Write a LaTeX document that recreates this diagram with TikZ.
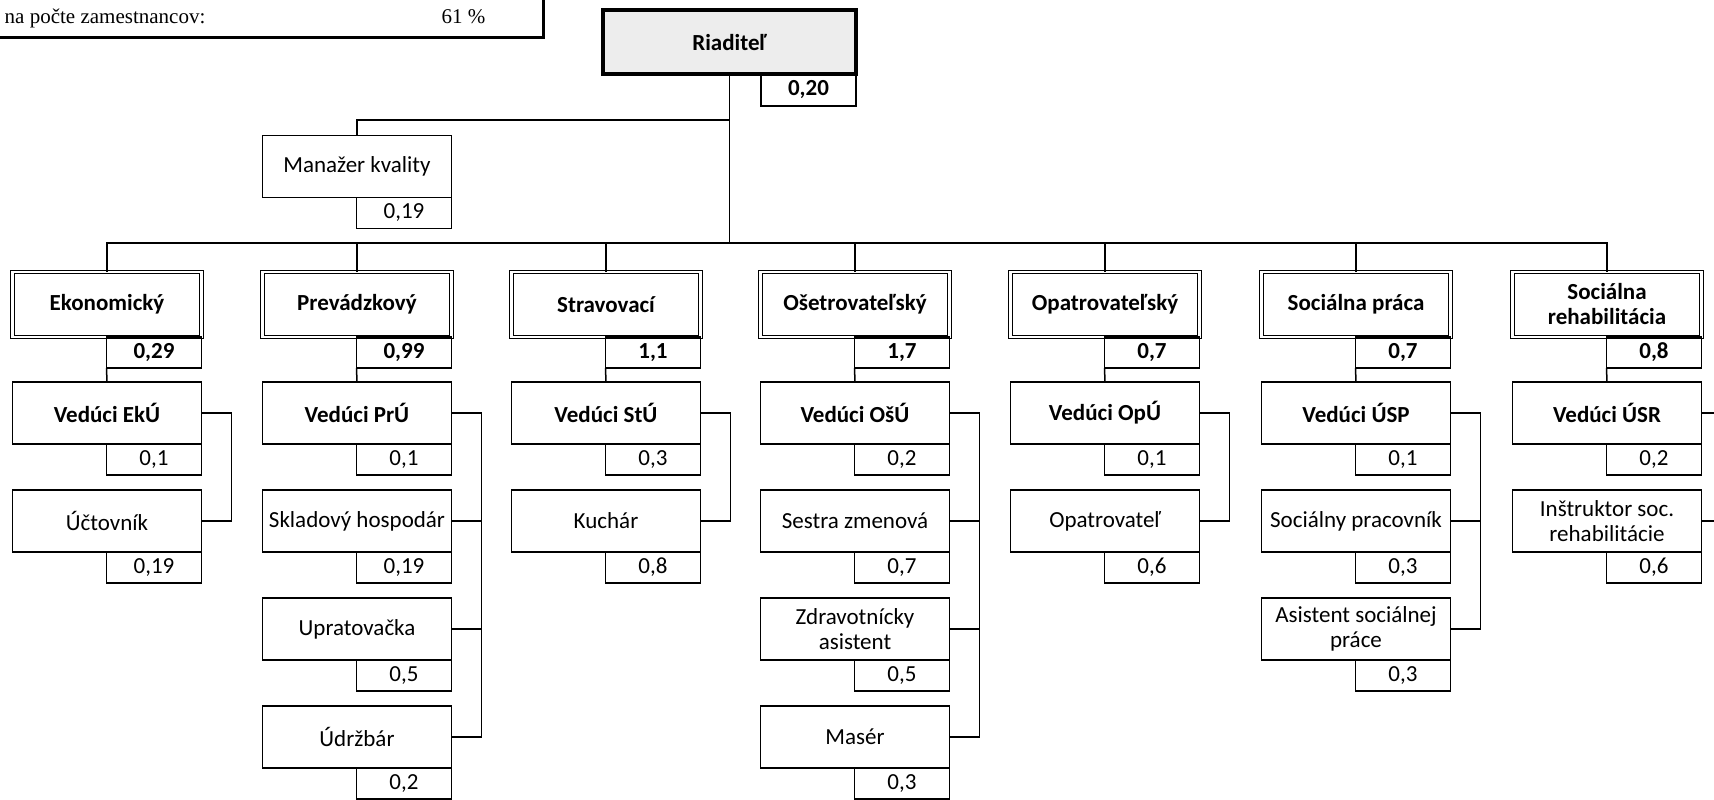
\documentclass[tikz,border=0pt]{standalone}
\usepackage{fontspec}
\setmainfont{Carlito}
\newfontfamily\serifnote{Liberation Serif}
\usetikzlibrary{positioning}
\tikzset{
    x=0.5pt, y=-0.5pt, % one unit is one pixel of the scan, y runs down
    every node/.style={font=\fontsize{11.5}{12.5}\selectfont},
    box/.style={draw, rectangle, line width=0.75pt, minimum width=94.5pt, minimum height=31pt, inner sep=0pt, outer sep=0pt, align=center}, % plain post
    lead/.style={box, font=\fontsize{11.5}{12.5}\selectfont\bfseries}, % head of a unit
    numbox/.style={box, minimum width=47.5pt, minimum height=15.5pt}, % share of staff
    dept/.style={lead, double, line width=0.5pt, double distance=1.3pt, minimum height=32.5pt}, % unit
    deptnum/.style={numbox, font=\fontsize{11.5}{12.5}\selectfont\bfseries},
    head/.style={lead, line width=2pt, fill=black!7, minimum width=126.5pt, minimum height=32pt}, % director
}

\begin{document}
\begin{tikzpicture}[line width=0.75pt]
    \path[use as bounding box, clip] (0,0) rectangle (1714,799);

    % note box, cut at the corner
    \draw[line width=1.5pt] (-10,-20) rectangle (543,37);
    \node[anchor=base west, inner sep=0pt, font=\serifnote\fontsize{10.5}{12}\selectfont] (zam) at (4,23) {na počte zamestnancov:};
    \node[anchor=base east, inner sep=0pt, font=\serifnote\fontsize{10.5}{12}\selectfont] (pct) at (486,23) {61 \%};

    % director and quality
    \node[head] (riad) at (729.5,42) {Riaditeľ};
    \node[deptnum, below left=0pt of riad.south east, minimum height=16pt] (riad-n) {0,20};
    \node[box] (mk) at (357,166.5) {Manažer kvality};
    \node[numbox, below left=0pt of mk.south east] (mk-n) {0,19};

    % units
    \node[dept] (eko) at (107,304.5) {Ekonomický};
    \node[dept] (pre) at (357,304.5) {Prevádzkový};
    \node[dept] (str) at (606,304.5) {Stravovací};
    \node[dept] (ose) at (855,304.5) {Ošetrovateľský};
    \node[dept] (opa) at (1105,304.5) {Opatrovateľský};
    \node[dept] (sp) at (1356,304.5) {Sociálna práca};
    \node[dept] (sr) at (1607,304.5) {Sociálna\\rehabilitácia};
    \node[deptnum, below left=0pt of eko.south east] (eko-n) {0,29};
    \node[deptnum, below left=0pt of pre.south east] (pre-n) {0,99};
    \node[deptnum, below left=0pt of str.south east] (str-n) {1,1};
    \node[deptnum, below left=0pt of ose.south east] (ose-n) {1,7};
    \node[deptnum, below left=0pt of opa.south east] (opa-n) {0,7};
    \node[deptnum, below left=0pt of sp.south east] (sp-n) {0,7};
    \node[deptnum, below left=0pt of sr.south east] (sr-n) {0,8};

    % Ekonomický
    \node[lead, below=22.5pt of eko] (eko-v) {Vedúci EkÚ};
    \node[numbox, below left=0pt of eko-v.south east] (eko-vn) {0,1};
    \node[box, below=23pt of eko-v] (eko-1) {Účtovník};
    \node[numbox, below left=0pt of eko-1.south east] (eko-1n) {0,19};

    % Prevádzkový
    \node[lead, below=22.5pt of pre] (pre-v) {Vedúci PrÚ};
    \node[numbox, below left=0pt of pre-v.south east] (pre-vn) {0,1};
    \node[box, below=23pt of pre-v] (pre-1) {Skladový hospodár};
    \node[numbox, below left=0pt of pre-1.south east] (pre-1n) {0,19};
    \node[box, below=23pt of pre-1] (pre-2) {Upratovačka};
    \node[numbox, below left=0pt of pre-2.south east] (pre-2n) {0,5};
    \node[box, below=23pt of pre-2] (pre-3) {Údržbár};
    \node[numbox, below left=0pt of pre-3.south east] (pre-3n) {0,2};

    % Stravovací
    \node[lead, below=22.5pt of str] (str-v) {Vedúci StÚ};
    \node[numbox, below left=0pt of str-v.south east] (str-vn) {0,3};
    \node[box, below=23pt of str-v] (str-1) {Kuchár};
    \node[numbox, below left=0pt of str-1.south east] (str-1n) {0,8};

    % Ošetrovateľský
    \node[lead, below=22.5pt of ose] (ose-v) {Vedúci OšÚ};
    \node[numbox, below left=0pt of ose-v.south east] (ose-vn) {0,2};
    \node[box, below=23pt of ose-v] (ose-1) {Sestra zmenová};
    \node[numbox, below left=0pt of ose-1.south east] (ose-1n) {0,7};
    \node[box, below=23pt of ose-1] (ose-2) {Zdravotnícky\\asistent};
    \node[numbox, below left=0pt of ose-2.south east] (ose-2n) {0,5};
    \node[box, below=23pt of ose-2] (ose-3) {Masér};
    \node[numbox, below left=0pt of ose-3.south east] (ose-3n) {0,3};

    % Opatrovateľský
    \node[lead, below=22.5pt of opa] (opa-v) {Vedúci OpÚ};
    \node[numbox, below left=0pt of opa-v.south east] (opa-vn) {0,1};
    \node[box, below=23pt of opa-v] (opa-1) {Opatrovateľ};
    \node[numbox, below left=0pt of opa-1.south east] (opa-1n) {0,6};

    % Sociálna práca
    \node[lead, below=22.5pt of sp] (sp-v) {Vedúci ÚSP};
    \node[numbox, below left=0pt of sp-v.south east] (sp-vn) {0,1};
    \node[box, below=23pt of sp-v] (sp-1) {Sociálny pracovník};
    \node[numbox, below left=0pt of sp-1.south east] (sp-1n) {0,3};
    \node[box, below=23pt of sp-1] (sp-2) {Asistent sociálnej\\práce};
    \node[numbox, below left=0pt of sp-2.south east] (sp-2n) {0,3};

    % Sociálna rehabilitácia
    \node[lead, below=22.5pt of sr] (sr-v) {Vedúci ÚSR};
    \node[numbox, below left=0pt of sr-v.south east] (sr-vn) {0,2};
    \node[box, below=23pt of sr-v] (sr-1) {Inštruktor soc.\\rehabilitácie};
    \node[numbox, below left=0pt of sr-1.south east] (sr-1n) {0,6};

    % lines from the top
    \coordinate (bus) at (0,243);
    \coordinate (qline) at (0,120);
    \draw (riad.south) -- (riad.south |- bus);
    \draw (riad.south |- qline) -| (mk.north);
    \draw (eko.north) |- (bus -| sr.north) -- (sr.north);
    \foreach \d in {pre, str, ose, opa, sp}
        \draw (\d.north) -- (\d.north |- bus);
    \foreach \d in {eko, pre, str, ose, opa, sp, sr}
        \draw (\d-n.south west) -- (\d-v.north);

    % lines to the posts
    \draw (eko-v.east) -- ++(30,0) coordinate (eko-c) |- (eko-1.east);
    \draw (pre-v.east) -- ++(30,0) coordinate (pre-c) |- (pre-3.east);
    \draw (pre-1.east) -- (pre-1.east -| pre-c);
    \draw (pre-2.east) -- (pre-2.east -| pre-c);
    \draw (str-v.east) -- ++(30,0) |- (str-1.east);
    \draw (ose-v.east) -- ++(30,0) coordinate (ose-c) |- (ose-3.east);
    \draw (ose-1.east) -- (ose-1.east -| ose-c);
    \draw (ose-2.east) -- (ose-2.east -| ose-c);
    \draw (opa-v.east) -- ++(30,0) |- (opa-1.east);
    \draw (sp-v.east) -- ++(30,0) coordinate (sp-c) |- (sp-2.east);
    \draw (sp-1.east) -- (sp-1.east -| sp-c);
    \draw (sr-v.east) -- ++(30,0) |- (sr-1.east);
\end{tikzpicture}
\end{document}
